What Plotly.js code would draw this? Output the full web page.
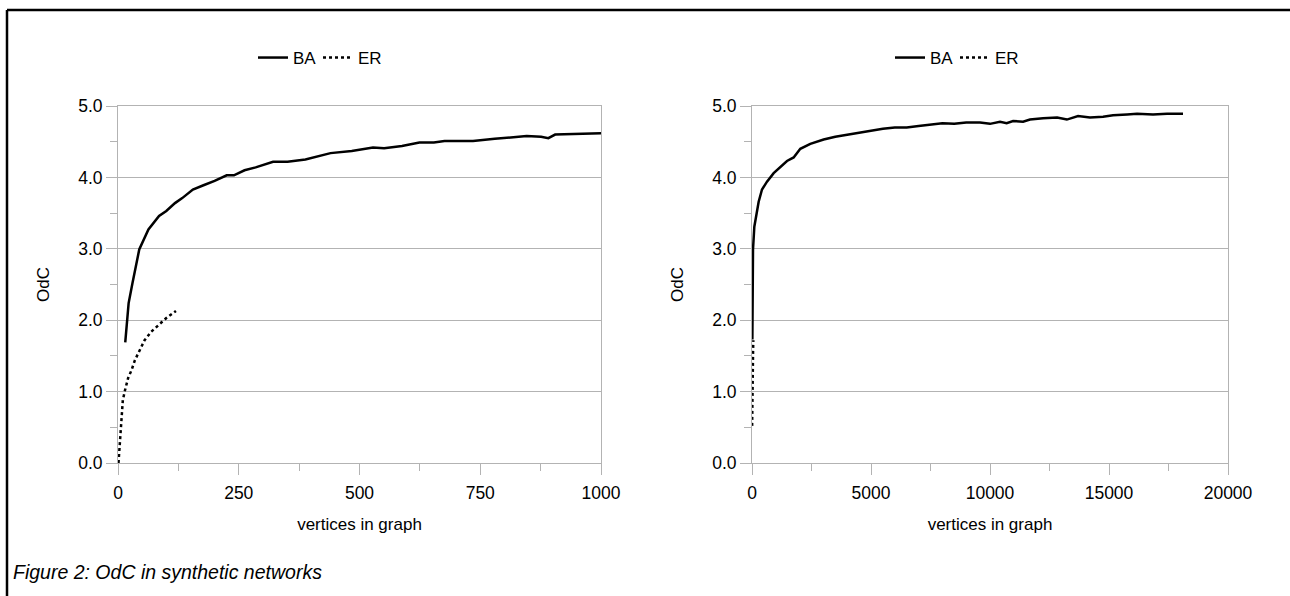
<!DOCTYPE html>
<html>
<head>
<meta charset="utf-8">
<script src="https://cdn.plot.ly/plotly-3.0.1.min.js"></script>
<style>html,body{margin:0;padding:0;background:#fff;}#chart{width:1290px;height:596px;}</style>
</head>
<body>
<div id="chart"></div>
<script>
// ---- data ----
const seriesNames = ["BA", "ER"];
const leftBA_x = [15,22,30,44,63,85,100,118,133,155,177,200,225,240,262,285,321,351,388,410,440,484,528,551,588,624,654,676,735,780,817,846,876,891,905,942,972,1000];
const leftBA_y = [1.69,2.24,2.52,2.99,3.27,3.46,3.53,3.64,3.71,3.83,3.89,3.95,4.03,4.03,4.10,4.14,4.22,4.22,4.25,4.29,4.34,4.37,4.42,4.41,4.44,4.49,4.49,4.51,4.51,4.54,4.56,4.58,4.57,4.55,4.60,4.61,4.62,4.62];
const leftER_x = [1,3.5,5,7,10,14.5,21,28,35,45,55,69,83,100,120];
const leftER_y = [0,0.23,0.41,0.67,0.88,1.02,1.19,1.30,1.44,1.58,1.72,1.84,1.93,2.03,2.13];
const rightBA_x = [15,28,42,98,182,280,420,630,910,1190,1470,1750,1890,2030,2450,3010,3500,4000,4500,5000,5500,6000,6500,7000,7500,8000,8500,9000,9580,10000,10420,10700,10970,11390,11680,12230,12820,13230,13700,14200,14750,15170,15760,16180,16850,17440,18110];
const rightBA_y = [1.73,2.43,2.99,3.31,3.50,3.66,3.83,3.94,4.06,4.15,4.23,4.28,4.34,4.40,4.47,4.53,4.57,4.60,4.63,4.66,4.68,4.70,4.70,4.72,4.74,4.76,4.75,4.77,4.77,4.75,4.78,4.76,4.79,4.78,4.81,4.83,4.84,4.81,4.86,4.84,4.85,4.87,4.88,4.89,4.88,4.89,4.89];
const rightER_x = [5,7,10,14,21,28,35,45,55];
const rightER_y = [0.52,0.67,0.88,1.02,1.19,1.30,1.44,1.58,1.72];
const leftXTicks = [0,250,500,750,1000];
const rightXTicks = [0,5000,10000,15000,20000];
const yTicks = [0,1,2,3,4,5];
const xTitle = "vertices in graph";
const yTitle = "OdC";
const caption = "Figure 2: OdC in synthetic networks";

// ---- layout helpers ----
const W = 1290, H = 596;
const px = v => v / W;
const py = v => 1 - v / H;
const FONT = "Liberation Sans, Arial, sans-serif";
const GRID = "#b3b3b3";
const TICKSIZE = 17.5, TITLESIZE = 17, LEGSIZE = 17;

const traces = [
  {x: leftBA_x, y: leftBA_y, name: seriesNames[0], mode: "lines", line: {color: "#000", width: 2.5}, xaxis: "x", yaxis: "y", legend: "legend"},
  {x: leftER_x, y: leftER_y, name: seriesNames[1], mode: "lines", line: {color: "#000", width: 2.5, dash: "dot"}, xaxis: "x", yaxis: "y", legend: "legend"},
  {x: rightER_x, y: rightER_y, name: seriesNames[1], mode: "lines", line: {color: "#000", width: 2.5, dash: "dot"}, xaxis: "x2", yaxis: "y2", legend: "legend2", legendrank: 2},
  {x: rightBA_x, y: rightBA_y, name: seriesNames[0], mode: "lines", line: {color: "#000", width: 2.5}, xaxis: "x2", yaxis: "y2", legend: "legend2", legendrank: 1}
];

function xAxis(domain, range, ticks, minor, anchor) {
  return {
    domain: domain, range: range, anchor: anchor,
    tickvals: ticks, ticktext: ticks.map(String),
    showgrid: false, zeroline: false,
    showline: true, linecolor: GRID, linewidth: 1, mirror: true,
    ticks: "outside", ticklen: 11, tickcolor: GRID, tickwidth: 1,
    ticklabelstandoff: 3,
    minor: {dtick: minor, tick0: 0, ticks: "outside", ticklen: 7, tickcolor: GRID, tickwidth: 1, showgrid: false},
    tickfont: {family: FONT, size: TICKSIZE, color: "#000"},
    title: {text: xTitle, font: {family: FONT, size: TITLESIZE, color: "#000"}, standoff: 16},
    automargin: false, fixedrange: true
  };
}
function yAxis(anchor) {
  return {
    domain: [py(463), py(106)], range: [0, 5], anchor: anchor,
    tickvals: yTicks, tickformat: ".1f",
    showgrid: true, gridcolor: GRID, gridwidth: 1, zeroline: false,
    showline: true, linecolor: GRID, linewidth: 1, mirror: true,
    ticks: "outside", ticklen: 11, tickcolor: GRID, tickwidth: 1,
    minor: {dtick: 0.5, tick0: 0, ticks: "outside", ticklen: 7, tickcolor: GRID, tickwidth: 1, showgrid: false},
    tickfont: {family: FONT, size: TICKSIZE, color: "#000"},
    title: {text: yTitle, font: {family: FONT, size: TITLESIZE, color: "#000"}, standoff: 24},
    automargin: false, fixedrange: true
  };
}

const legendBase = {
  orientation: "h", yanchor: "middle", xanchor: "center",
  font: {family: FONT, size: LEGSIZE, color: "#000"},
  bgcolor: "rgba(0,0,0,0)", itemwidth: 30, tracegroupgap: 0, itemclick: false,
  entrywidth: 20, entrywidthmode: "pixels"
};

const layout = {
  width: W, height: H,
  margin: {l: 0, r: 0, t: 0, b: 0},
  paper_bgcolor: "#fff", plot_bgcolor: "#fff",
  font: {family: FONT, size: 16, color: "#000"},
  showlegend: true,
  xaxis: xAxis([px(118), px(601)], [0, 1000], leftXTicks, 125, "y"),
  yaxis: yAxis("x"),
  xaxis2: xAxis([px(752), px(1228)], [0, 20000], rightXTicks, 2500, "y2"),
  yaxis2: yAxis("x2"),
  legend: Object.assign({}, legendBase, {x: px(318), y: py(58)}),
  legend2: Object.assign({}, legendBase, {x: px(955), y: py(58)}),
  annotations: [
    {text: "<i>" + caption + "</i>", xref: "paper", yref: "paper", x: px(11), y: py(572),
     xanchor: "left", yanchor: "middle", showarrow: false,
     font: {family: FONT, size: 19.5, color: "#000", style: "italic"}}
  ],
  shapes: [
    {type: "line", xref: "paper", yref: "paper", x0: px(7), x1: px(7), y0: py(10), y1: -0.05, line: {color: "#000", width: 2.5}},
    {type: "line", xref: "paper", yref: "paper", x0: px(7), x1: 1.05, y0: py(10), y1: py(10), line: {color: "#000", width: 2.5}}
  ]
};

Plotly.newPlot("chart", traces, layout, {staticPlot: true, displayModeBar: false});
</script>
</body>
</html>
